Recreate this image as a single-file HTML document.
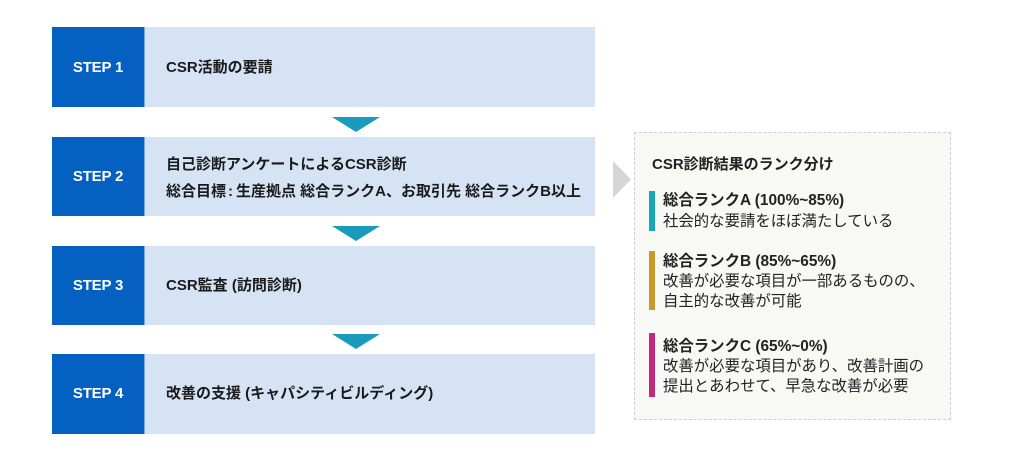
<!DOCTYPE html>
<html><head><meta charset="utf-8"><style>
html,body{margin:0;padding:0;background:#fff;}
body{width:1024px;height:462px;position:relative;overflow:hidden;font-family:"Liberation Sans","Noto Sans CJK JP",sans-serif;color:#1e1e1e;}
.dk{position:absolute;left:52px;width:92px;background:#0561c1;}
.lt{position:absolute;left:144px;width:451px;background:#d5e3f4;border-left:1px solid #7fa9dc;box-sizing:border-box;}
.sl{position:absolute;left:52px;width:92px;text-align:center;color:#fff;font-weight:bold;font-size:15px;line-height:20px;letter-spacing:-0.2px;}
.ct{position:absolute;left:166px;font-weight:bold;font-size:15px;line-height:20px;white-space:nowrap;color:#1a1a1a;}
.arr{position:absolute;left:332px;width:0;height:0;border-left:24.5px solid transparent;border-right:24.5px solid transparent;border-top:15px solid #1a9bbd;}
.panel{position:absolute;left:634px;top:132px;width:317px;height:288px;box-sizing:border-box;border:1px dashed #cfcfcf;background:#f8f8f5;}
.pt{position:absolute;left:663px;font-size:15.4px;line-height:20px;white-space:nowrap;color:#222;}
.b{font-weight:bold;}
.bar{position:absolute;left:649px;width:6px;}
</style></head><body>

<!-- STEP 1 -->
<div class="dk" style="top:27px;height:80px;"></div>
<div class="lt" style="top:27px;height:80px;"></div>
<div class="sl" style="top:58px;">STEP 1</div>
<div class="ct" style="top:58px;">CSR活動の要請</div>

<div class="arr" style="top:117px;"></div>

<!-- STEP 2 -->
<div class="dk" style="top:137px;height:79px;"></div>
<div class="lt" style="top:137px;height:79px;"></div>
<div class="sl" style="top:167px;">STEP 2</div>
<div class="ct" style="top:155px;">自己診断アンケートによるCSR診断</div>
<div class="ct" style="top:182px;">総合目標<span style="margin:0 3px 0 2px">:</span>生産拠点 総合ランクA、お取引先 総合ランクB以上</div>

<div class="arr" style="top:226px;"></div>

<!-- STEP 3 -->
<div class="dk" style="top:246px;height:79px;"></div>
<div class="lt" style="top:246px;height:79px;"></div>
<div class="sl" style="top:276px;">STEP 3</div>
<div class="ct" style="top:276px;">CSR監査 (訪問診断)</div>

<div class="arr" style="top:334px;"></div>

<!-- STEP 4 -->
<div class="dk" style="top:354px;height:80px;"></div>
<div class="lt" style="top:354px;height:80px;"></div>
<div class="sl" style="top:384px;">STEP 4</div>
<div class="ct" style="top:384px;">改善の支援 (キャパシティビルディング)</div>

<!-- chevron -->
<svg style="position:absolute;left:0;top:0" width="1024" height="462">
<polygon points="613,161 631,179.5 613,198" fill="#d6d6d6"/>
</svg>

<!-- Panel -->
<div class="panel"></div>
<div class="pt b" style="left:652px;top:155px;font-size:15px;">CSR診断結果のランク分け</div>

<div class="bar" style="top:191px;height:40px;background:#17a7b8;"></div>
<div class="pt b" style="top:191px;">総合ランクA (100%~85%)</div>
<div class="pt" style="top:212px;">社会的な要請をほぼ満たしている</div>

<div class="bar" style="top:251px;height:59px;background:#c9972b;"></div>
<div class="pt b" style="top:252px;">総合ランクB (85%~65%)</div>
<div class="pt" style="top:272px;">改善が必要な項目が一部あるものの、</div>
<div class="pt" style="top:292px;">自主的な改善が可能</div>

<div class="bar" style="top:333px;height:64px;background:#c1287f;"></div>
<div class="pt b" style="top:337px;">総合ランクC (65%~0%)</div>
<div class="pt" style="top:357px;">改善が必要な項目があり、改善計画の</div>
<div class="pt" style="top:377px;">提出とあわせて、早急な改善が必要</div>

</body></html>
